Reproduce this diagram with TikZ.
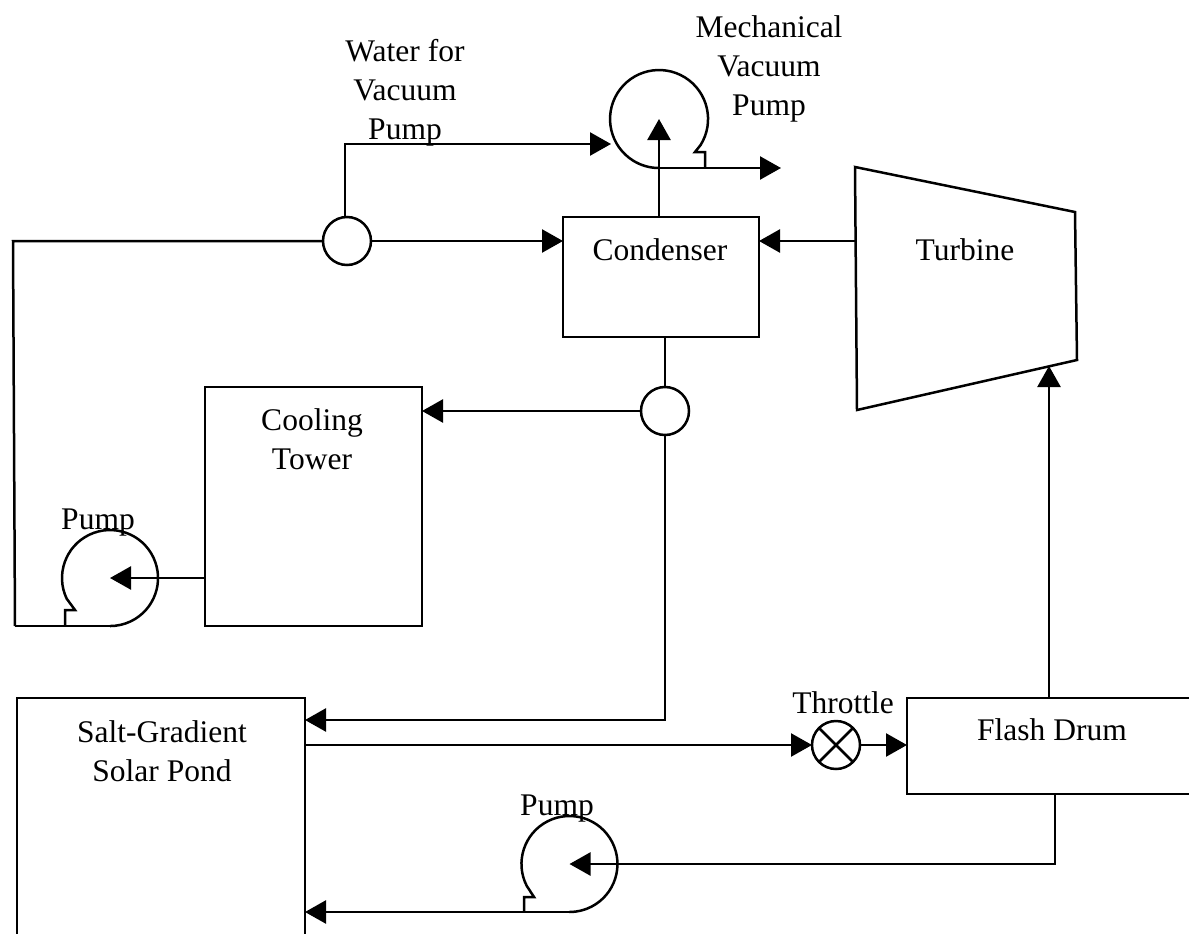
\documentclass[tikz,border=0pt]{standalone}
\usepackage{fontspec}
\setmainfont{Liberation Serif}
\usetikzlibrary{arrows.meta,calc}
\tikzset{
  x=1pt,y=-1pt,
  every path/.style={line width=2.5pt,line join=miter},
  boxnode/.style={draw,rectangle,inner sep=0pt,outer sep=0pt},
  junction/.style={draw,circle,fill=white,minimum size=48pt,inner sep=0pt,outer sep=0pt},
  lbl/.style={inner sep=0pt,align=center,font=\fontsize{31.5}{39}\selectfont},
  flow/.style={-{Triangle[length=21pt,width=23pt]}},
}
\begin{document}
\begin{tikzpicture}
\useasboundingbox (0,0) rectangle (1189,934);
% boxes
\node[boxnode,minimum width=196pt,minimum height=120pt] (cond) at (661,277) {};
\node[boxnode,minimum width=217pt,minimum height=239pt] (tower) at (313.5,506.5) {};
\node[boxnode,minimum width=288pt,minimum height=240pt] (pond) at (161,818) {};
\node[boxnode,minimum width=283pt,minimum height=96pt] (drum) at (1048.5,746) {};
% turbine
\coordinate (t1) at (855,167);
\coordinate (t2) at (1075,212);
\coordinate (t3) at (1077,360);
\coordinate (t4) at (857,410);
\coordinate (tin) at (855,241);
\coordinate (tout) at (1049,366);
\draw (t1) -- (t2) -- (t3) -- (t4) -- cycle;
% junctions
\node[junction] (j1) at (347,241) {};
\node[junction] (j2) at (665,411) {};
\node[junction] (thr) at (836,745) {};
\draw (thr.45) -- (thr.225) (thr.135) -- (thr.-45);
% vacuum pump
\coordinate (vp) at (659,119);
\coordinate (vpout) at (705,168);
\coordinate (vpend) at (781,168);
\coordinate (vpb) at (659,168);
\draw (vpout) -- ++(0,-16) -- ++(-10,0) -- (700.6,145)
  arc[start angle=32,end angle=-270,radius=49];
% cooling pump
\coordinate (cp) at (110,578);
\coordinate (cpout) at (65,626);
\coordinate (cpb) at (110,626);
\coordinate (cploop) at (15,626);
\draw (cpout) -- ++(0,-16) -- ++(10,0) -- (66.7,598.7)
  arc[start angle=154.5,end angle=450,radius=48];
\draw (cpb) -- (cploop);
% pond pump
\coordinate (pp) at (569.5,864);
\coordinate (ppout) at (524,912);
\coordinate (ppb) at (569.5,912);
\draw (ppout) -- ++(0,-15) -- ++(10,0) -- (526.7,885.8)
  arc[start angle=153,end angle=450,radius=48];
\draw (ppb) -- (ppout);
% connectors
\coordinate (a1) at (13,241);
\draw (j1.west) -- (a1) -- (cploop);
\draw[flow] (j1.east) -- (j1 -| cond.west);
\coordinate (a2) at (345,144);
\coordinate (a3) at (611,144);
\draw[flow] (j1.north -| a2) -- (a2) -- (a3);
\draw[flow] (tin) -- (tin -| cond.east);
\draw[flow] (vp |- cond.north) -- (vp);
\draw[flow] (vpb) -- (vpend);
\draw (cond.south -| j2) -- (j2.north);
\draw[flow] (j2.west) -- (j2 -| tower.east);
\coordinate (a4) at (665,720);
\draw[flow] (j2.south) -- (a4) -- (a4 -| pond.east);
\coordinate (a5) at (305,745);
\draw[flow] (a5) -- (thr.west);
\draw[flow] (thr.east) -- (thr -| drum.west);
\coordinate (a6) at (1055,864);
\draw[flow] (drum.south -| a6) -- (a6) -- (pp);
\draw[flow] (ppout) -- (ppout -| pond.east);
\draw[flow] (tower.west |- cp) -- (cp);
\draw[flow] (tout |- drum.north) -- (tout);
% labels
\node[lbl] (lcond) at (660,250) {Condenser};
\node[lbl] (lturb) at (965,250) {Turbine};
\node[lbl] (lwater) at (405,93) {Water for\\Vacuum\\Pump};
\node[lbl] (lmech) at (769,69) {Mechanical\\Vacuum\\Pump};
\node[lbl] (ltower) at (312,439) {Cooling\\Tower};
\node[lbl] (lpump1) at (98,523) {Pump};
\node[lbl] (lpond) at (162,751) {Salt-Gradient\\Solar Pond};
\node[lbl] (lthr) at (843,703) {Throttle};
\node[lbl] (ldrum) at (1052,730) {Flash Drum};
\node[lbl] (lpump2) at (557,809) {Pump};
\end{tikzpicture}
\end{document}
